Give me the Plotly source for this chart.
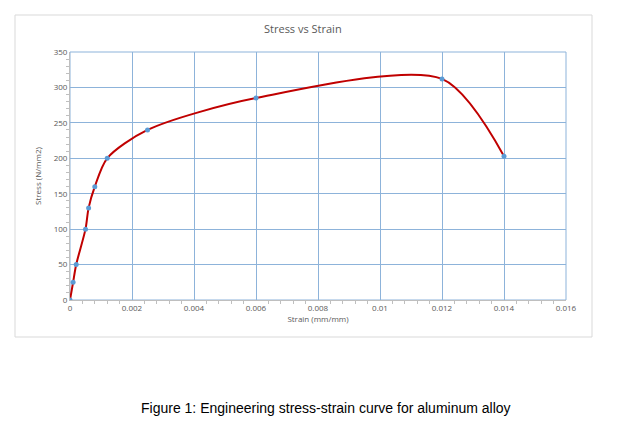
import plotly.graph_objects as go

strain = [0, 0.0001, 0.0002, 0.0005, 0.0006, 0.0008, 0.0012, 0.0025, 0.006, 0.012, 0.014]
stress = [0, 25, 50, 100, 130, 160, 200, 240, 285, 312, 203]

title = "Stress vs Strain"
x_title = "Strain (mm/mm)"
y_title = "Stress (N/mm2)"
caption = "Figure 1: Engineering stress-strain curve for aluminum alloy"

fig = go.Figure()
fig.add_trace(go.Scatter(
    x=strain, y=stress, mode="lines",
    line=dict(color="#C00000", width=2, shape="spline", smoothing=0.8),
    hoverinfo="skip", showlegend=False,
))
fig.add_trace(go.Scatter(
    x=strain, y=stress, mode="markers",
    marker=dict(color="#5B9BD5", size=5),
    showlegend=False,
))

grid = "#8DB3DA"
axis_font = dict(family="Open Sans, Liberation Sans, sans-serif", size=8, color="#595959")

fig.update_xaxes(
    range=[0, 0.016], dtick=0.002, tick0=0,
    showgrid=True, gridcolor=grid, gridwidth=1,
    showline=True, linecolor="#BFBFBF", linewidth=1, mirror=False,
    zeroline=False, ticks="", tickfont=axis_font,
    minor=dict(dtick=0.0004, ticks="outside", ticklen=3, tickcolor="#BFBFBF", showgrid=False),
    title=dict(text=x_title, font=axis_font, standoff=4),
)
fig.update_yaxes(
    range=[0, 350], dtick=50, tick0=0,
    showgrid=True, gridcolor=grid, gridwidth=1,
    showline=True, linecolor="#BFBFBF", linewidth=1,
    zeroline=False, ticks="", tickfont=axis_font,
    minor=dict(dtick=10, ticks="outside", ticklen=3, tickcolor="#BFBFBF", showgrid=False),
    title=dict(text=y_title, font=axis_font, standoff=10),
)

# plot-area right and top border in grid colour
fig.add_shape(type="rect", xref="paper", yref="paper", x0=0, x1=1, y0=0, y1=1,
              line=dict(color=grid, width=1), layer="below")
# outer chart frame
fig.add_shape(type="rect", xref="paper", yref="paper",
              x0=(15 - 70) / 496, x1=(592 - 70) / 496,
              y0=(300 - 337) / 248, y1=(300 - 15) / 248,
              line=dict(color="#D9D9D9", width=1))

fig.add_annotation(text=title, xref="paper", yref="paper",
                   x=(303 - 70) / 496, y=(300 - 29) / 248, showarrow=False,
                   xanchor="center", yanchor="middle",
                   font=dict(family="Open Sans, Liberation Sans, sans-serif", size=11, color="#595959"))
fig.add_annotation(text=caption, xref="paper", yref="paper",
                   x=(326 - 70) / 496, y=(300 - 408) / 248, showarrow=False,
                   xanchor="center", yanchor="middle",
                   font=dict(family="Liberation Sans, Arial, sans-serif", size=14, color="#000000"))

fig.update_layout(
    width=640, height=435,
    margin=dict(l=70, r=74, t=52, b=135),
    paper_bgcolor="white", plot_bgcolor="white",
)

fig.write_html("out.html")
